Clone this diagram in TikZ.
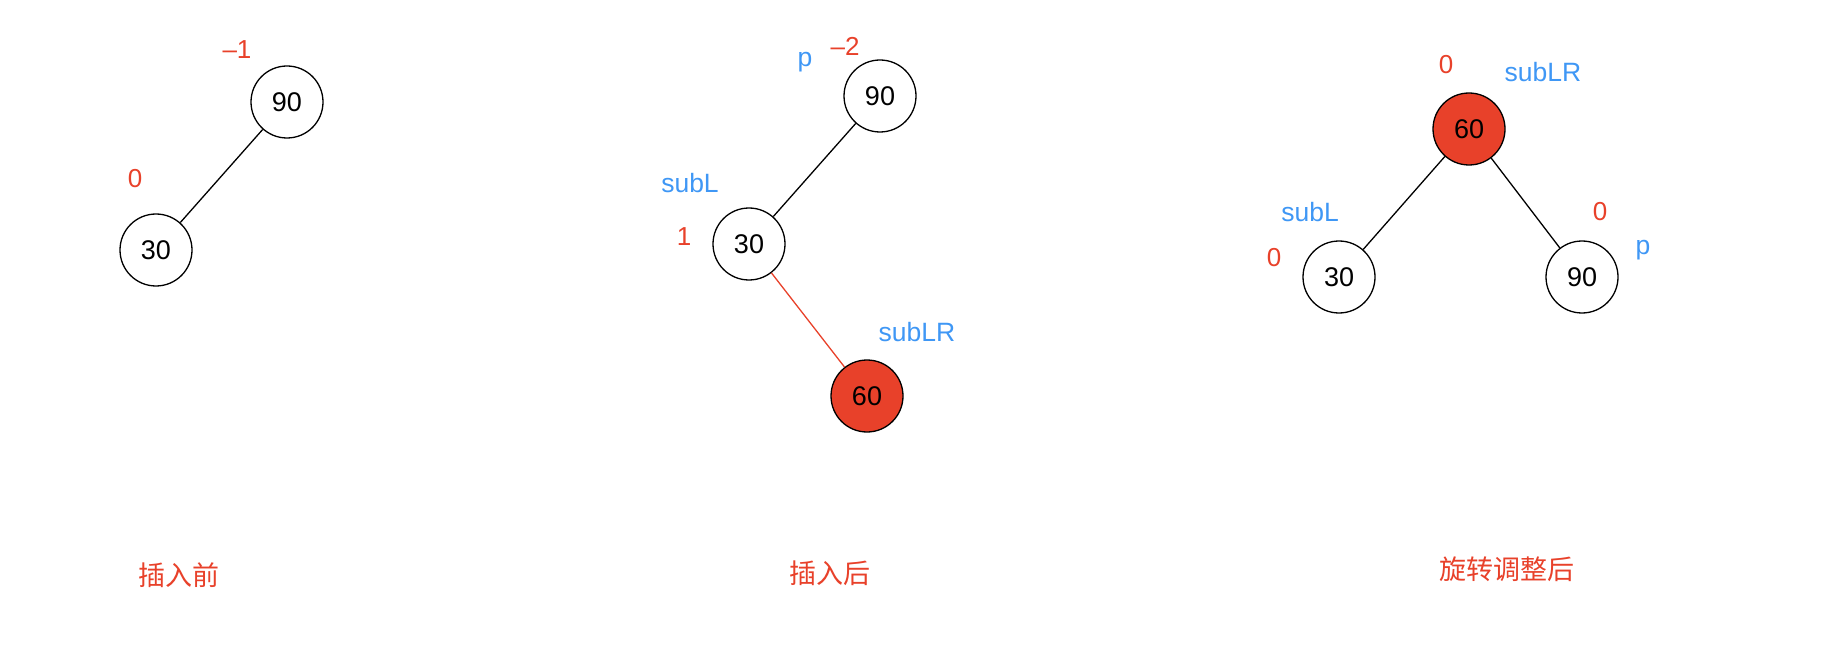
\documentclass[tikz,border=0pt]{standalone}
\usepackage{fontspec}
\setmainfont{Liberation Sans}
\newfontfamily\cjk{Noto Sans CJK SC}
\definecolor{myred}{HTML}{E8412A}
\definecolor{myblue}{HTML}{3F97F5}
\begin{document}
\begin{tikzpicture}[x=1pt,y=-1pt,
  tnode/.style={circle,draw=black,line width=1.3pt,minimum size=72pt,inner sep=0pt,font=\fontsize{27}{30}\selectfont},
  hot/.style={tnode,fill=myred},
  bf/.style={text=myred,font=\fontsize{26}{30}\selectfont},
  nm/.style={text=myblue,font=\fontsize{26.5}{30}\selectfont},
  captxt/.style={text=myred,font=\cjk\fontsize{27}{30}\selectfont},
  lnk/.style={line width=1.3pt,draw=black},
  rlnk/.style={line width=1.3pt,draw=myred}]
\useasboundingbox (0,0) rectangle (1830,652);
% panel 1
\node[tnode] (a90) at (287,102) {90};
\node[tnode] (a30) at (156,250) {30};
\draw[lnk] (a90) -- (a30);
\node[bf] (am1) at (237,50) {–1};
\node[bf] (a0) at (135,179) {0};
\node[captxt] (c1) at (179,575) {插入前};
% panel 2
\node[tnode] (b90) at (880,96) {90};
\node[tnode] (b30) at (749,244) {30};
\node[hot] (b60) at (867,396) {60};
\draw[lnk] (b90) -- (b30);
\draw[rlnk] (b30) -- (b60);
\node[nm] (bp) at (805,62) {p};
\node[bf] (bm2) at (845,46) {–2};
\node[nm] (bsl) at (690,183) {subL};
\node[bf] (b1) at (684,237) {1};
\node[nm] (bslr) at (917,332) {subLR};
\node[captxt] (c2) at (830,573) {插入后};
% panel 3
\node[hot] (c60) at (1469,129) {60};
\node[tnode] (c30) at (1339,277) {30};
\node[tnode] (c90) at (1582,277) {90};
\draw[lnk] (c60) -- (c30);
\draw[lnk] (c60) -- (c90);
\node[bf] (c0t) at (1446,65) {0};
\node[nm] (cslr) at (1543,72) {subLR};
\node[nm] (csl) at (1310,212) {subL};
\node[bf] (c0l) at (1274,258) {0};
\node[bf] (c0r) at (1600,212) {0};
\node[nm] (cp) at (1643,250) {p};
\node[captxt] (c3) at (1507,569) {旋转调整后};
\end{tikzpicture}
\end{document}
